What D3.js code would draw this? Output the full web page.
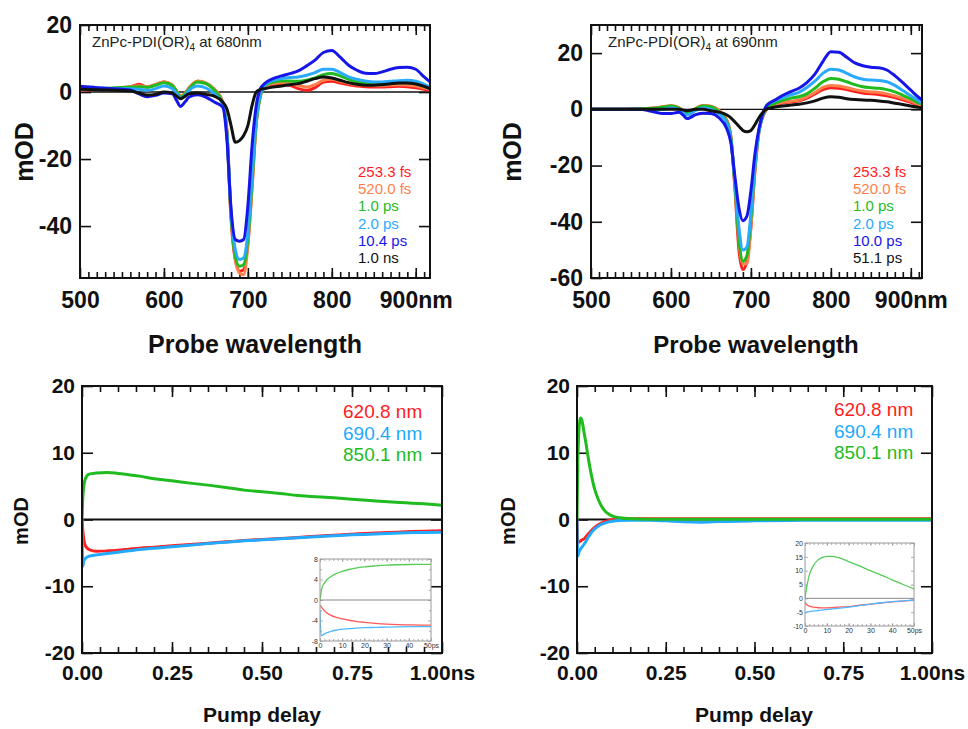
<!DOCTYPE html>
<html>
<head>
<meta charset="utf-8">
<script src="https://cdn.jsdelivr.net/npm/d3@7"></script>
<style>
body { margin: 0; background: #fff; }
svg { font-family: "Liberation Sans", Arial, Helvetica, sans-serif; }
</style>
</head>
<body>
<script>
// ---- spectra: probe wavelength grid (nm)
var wl = [500,520,540,560,570,580,590,600,610,615,620,625,630,640,650,660,670,675,680,685,690,695,700,705,710,715,720,730,740,750,760,770,780,790,800,810,820,830,840,850,860,870,880,890,900,910,917];

// excitation at 680 nm (mOD)
var ex680_253fs = [0.5,0.8,1.0,1.5,2.3,1.5,2.2,3.0,2.0,0.3,-1.3,-0.5,1.2,3.2,2.6,0.8,-3,-12,-38,-50,-53.5,-53,-45,-28,-9,-1,1.5,2.3,2.5,2.0,1.0,0.5,1.3,3.0,3.2,2.7,2.2,1.8,1.6,1.5,1.5,1.6,1.7,1.6,1.3,0.8,0.5];
var ex680_520fs = [0.6,0.9,1.1,1.6,1.9,1.6,2.3,3.1,2.1,0.4,-1.2,-0.4,1.3,3.3,2.7,0.9,-2.8,-11,-37,-50,-54,-54.5,-46,-29,-9.5,-1.2,1.5,2.5,2.8,2.5,2.0,1.5,2.2,3.5,3.8,3.2,2.6,2.2,2.0,1.9,1.9,2.1,2.2,2.1,1.8,1.2,0.8];
var ex680_1ps = [0.8,1.0,1.2,1.5,1.6,1.4,2.0,2.8,1.9,0.2,-1.5,-0.6,1.0,3.0,2.5,0.5,-3.2,-12,-37,-49,-52,-51.5,-44,-27,-9,-1,1.8,3.0,3.3,3.3,3.2,3.5,4.2,5.2,5.5,4.8,3.8,3.0,2.6,2.4,2.4,2.6,2.8,2.8,2.5,1.8,1.2];
var ex680_2ps = [1.5,1.3,1.0,1.0,0.8,0.5,1.0,1.8,1.0,-0.5,-2.0,-1.0,0.5,1.8,1.2,-0.5,-3.5,-12.5,-36,-47,-50,-49.5,-42,-25,-8,-0.5,2.0,3.5,4.0,4.3,4.5,5.0,5.8,6.8,6.8,5.8,4.5,3.8,3.3,3.0,3.0,3.2,3.4,3.5,3.2,2.3,1.5];
var ex680_10ps = [1.7,1.3,1.0,0.6,-0.5,-1.4,-1.0,-0.3,-0.5,-2.5,-4.3,-3.0,-1.5,-0.8,-1.5,-3.0,-4.5,-14,-35,-44,-44.5,-44,-34,-16,-4,1.0,2.5,4.0,4.8,5.5,6.3,7.8,9.5,11.8,12.4,10.4,8.0,6.5,5.6,5.5,6.0,6.8,7.3,7.4,6.8,4.5,3.0];
var ex680_1ns = [0.8,0.7,0.5,0.3,-0.3,-0.9,-0.7,0.0,-0.3,-1.2,-2.0,-1.3,-0.5,-0.3,-0.7,-1.2,-3.0,-5.0,-10,-15,-14.5,-13,-10,-4,0,0.8,1.0,1.5,1.8,2.2,2.5,3.2,4.0,4.5,4.2,3.5,2.8,2.3,2.0,2.0,2.2,2.5,2.7,2.7,2.4,1.7,1.0];
var labels680 = ["253.3 fs","520.0 fs","1.0 ps","2.0 ps","10.4 ps","1.0 ns"];

// excitation at 690 nm (mOD)
var ex690_253fs = [0,0,0,0.2,0.3,0.5,0.8,1.2,0.5,-0.5,-1.5,-1,0,1.3,1.0,-0.5,-4,-10,-28,-50,-57,-54,-42,-22,-8,-2.5,0,1.5,2.2,2.6,3.0,4.0,5.5,7.0,7.7,7.5,7.0,6.3,5.8,5.5,5.3,4.8,4.2,3.4,2.5,1.5,1.0];
var ex690_520fs = [0,0,0,0.2,0.3,0.5,0.9,1.3,0.6,-0.4,-1.4,-0.9,0.1,1.4,1.1,-0.4,-4,-10,-27,-47,-55,-55,-42,-22,-8,-2.5,0,1.7,2.5,2.9,3.3,4.4,6.0,7.8,8.5,8.3,7.7,7.0,6.5,6.2,6.0,5.5,4.8,3.9,2.9,1.8,1.2];
var ex690_1ps = [0,0,0,0.2,0.3,0.4,0.8,1.2,0.4,-0.6,-1.6,-1.0,0,1.2,0.9,-0.8,-4.5,-10,-27,-46,-54,-52,-39,-21,-8,-2,0.5,2.2,3.2,4.0,4.5,5.5,7.5,9.8,11.0,10.7,9.8,8.8,8.0,7.7,7.5,7.0,6.2,5.0,3.7,2.3,1.5];
var ex690_2ps = [0,0,0,0,-0.1,-0.3,0,0.5,0,-1.0,-2.0,-1.5,-0.5,0.5,0,-1.5,-5,-11,-26,-42,-50,-49,-37,-20,-8,-2,1.5,3.0,4.2,5.2,6.0,7.8,10.0,12.8,14.3,14.0,12.8,11.5,10.7,10.4,10.3,9.8,8.5,6.7,4.8,3.0,2.0];
var ex690_10ps = [0,0,0,0,-0.3,-1.0,-1.5,-1.5,-1.0,-2.0,-3.3,-2.8,-2.0,-1.4,-1.5,-3.0,-7,-12,-24,-35,-39.6,-38,-29,-16,-7,-1.5,1.5,3.3,5.0,6.3,7.5,9.5,12.5,17.0,20.5,20.3,18.5,16.5,15.5,15.0,14.8,14.0,12.0,9.5,6.8,4.2,2.8];
var ex690_51ps = [0,0,0,0,0,0,0,0,0,-0.2,-0.5,-0.3,0,0,-0.5,-1.0,-2.0,-3.0,-4.5,-6.0,-7.5,-8.0,-7.5,-5.5,-3.0,-1.0,0.2,0.8,1.2,1.5,1.8,2.3,3.0,4.0,4.5,4.3,3.8,3.5,3.3,3.2,3.0,2.7,2.2,1.7,1.2,0.7,0.5];
var labels690 = ["253.3 fs","520.0 fs","1.0 ps","2.0 ps","10.0 ps","51.1 ps"];

var specColors = ["#ff1e1e","#ff7f4a","#1fbb1f","#2aaaff","#1616e8","#111111"];

// ---- kinetics, 680 nm excitation (time in ns)
var tA = [0,0.002,0.005,0.01,0.02,0.04,0.07,0.1,0.13,0.16,0.2,0.25,0.3,0.35,0.4,0.45,0.5,0.55,0.6,0.65,0.7,0.75,0.8,0.85,0.9,0.95,1.0];
var kA_621 = [0,-1.5,-3,-4,-4.5,-4.75,-4.7,-4.6,-4.45,-4.3,-4.15,-3.95,-3.75,-3.55,-3.35,-3.15,-3.0,-2.85,-2.7,-2.5,-2.35,-2.2,-2.05,-1.95,-1.85,-1.75,-1.7];
var kA_690 = [0,-7,-6.2,-5.8,-5.5,-5.3,-5.1,-4.9,-4.7,-4.5,-4.3,-4.1,-3.85,-3.6,-3.4,-3.2,-3.05,-2.9,-2.75,-2.6,-2.45,-2.3,-2.2,-2.1,-2.0,-1.95,-1.9];
var kA_850 = [0,3,5,6.2,6.8,6.95,7.05,6.9,6.7,6.5,6.1,5.8,5.45,5.15,4.8,4.4,4.15,3.9,3.6,3.4,3.25,3.05,2.85,2.65,2.5,2.35,2.15];
// inset, first 50 ps
var tAi = [0,0.5,1,2,3,5,7,10,13,16,20,25,30,35,40,45,50];
var kAi_621 = [-1,-1.3,-1.6,-2.1,-2.5,-3.0,-3.35,-3.7,-3.95,-4.15,-4.35,-4.55,-4.7,-4.8,-4.85,-4.9,-4.9];
var kAi_690 = [-2,-7,-6.9,-6.6,-6.4,-6.1,-5.9,-5.7,-5.6,-5.5,-5.4,-5.35,-5.3,-5.25,-5.2,-5.2,-5.2];
var kAi_850 = [0,1.5,2.5,3.3,3.9,4.6,5.1,5.6,5.95,6.2,6.45,6.65,6.8,6.88,6.93,6.95,6.97];

// ---- kinetics, 690 nm excitation (time in ns)
var tB = [0,0.002,0.005,0.008,0.01,0.013,0.016,0.02,0.025,0.03,0.035,0.04,0.05,0.06,0.07,0.08,0.09,0.1,0.12,0.15,0.2,0.25,0.3,0.35,0.4,0.5,0.6,0.7,0.8,0.9,1.0];
var kB_621 = [0,-3.5,-3.4,-3.3,-3.2,-3.1,-3,-2.9,-2.6,-2.3,-2,-1.7,-1.2,-0.8,-0.5,-0.3,-0.15,-0.05,0.05,0.1,0.1,0.1,0.1,0.1,0.1,0.1,0.1,0.1,0.1,0.1,0.1];
var kB_690 = [0,-5.5,-5,-4.6,-4.4,-4.2,-4,-3.7,-3.3,-2.8,-2.4,-2,-1.4,-1,-0.7,-0.5,-0.35,-0.25,-0.15,-0.1,-0.1,-0.2,-0.35,-0.4,-0.3,-0.2,-0.15,-0.1,-0.1,-0.1,-0.1];
var kB_850 = [0,8,13,14.8,15.2,15,14.3,13,11.5,9.8,8.2,6.8,4.5,3,1.9,1.2,0.8,0.5,0.25,0.1,0.05,0.05,0.05,0.05,0.05,0.05,0.05,0.05,0.05,0.05,0.05];
var tBi = [0,1,2,4,6,8,10,12,15,20,25,30,35,40,45,50];
var kBi_621 = [-1.5,-2.4,-2.8,-3.2,-3.4,-3.45,-3.45,-3.4,-3.2,-3.0,-2.5,-2.1,-1.7,-1.3,-1.0,-0.7];
var kBi_690 = [-5.2,-5,-4.8,-4.6,-4.4,-4.2,-4.05,-3.9,-3.6,-3.2,-2.6,-2.1,-1.6,-1.2,-0.9,-0.6];
var kBi_850 = [0,5,8.5,12,13.9,14.8,15.2,15.2,14.8,13.3,11.7,10.0,8.4,6.7,5.0,3.4];

var kinLabels = ["620.8 nm","690.4 nm","850.1 nm"];
var kinColors = ["#ff2020","#22aaff","#1fbb1f"];
var insetColors = ["#ff5a5a","#4fbaff","#55cc55"];

var svg = d3.select("body").append("svg")
    .attr("width", 968)
    .attr("height", 729);

var clipCount = 0;

// draws one framed plot with inward ticks and its curves
function panel(o) {
    var g = svg.append("g");
    var x = d3.scaleLinear().domain(o.xd).range([o.l, o.r]);
    var y = d3.scaleLinear().domain(o.yd).range([o.b, o.t]);

    if (o.bg) {
        g.append("rect").attr("x", o.l).attr("y", o.t)
            .attr("width", o.r - o.l).attr("height", o.b - o.t).attr("fill", "#fff");
    }

    var ax = g.append("g");
    function addAxis(axis, tx, ty) {
        ax.append("g").attr("transform", "translate(" + tx + "," + ty + ")").call(axis);
    }
    addAxis(d3.axisBottom(x).tickValues(o.xMinor).tickSize(-o.minorLen).tickFormat(""), 0, o.b);
    addAxis(d3.axisBottom(x).tickValues(o.xMajor).tickSize(-o.majorLen).tickPadding(o.xPad).tickFormat(o.xFmt), 0, o.b);
    addAxis(d3.axisTop(x).tickValues(o.xMinor).tickSize(-o.minorLen).tickFormat(""), 0, o.t);
    addAxis(d3.axisTop(x).tickValues(o.xMajor).tickSize(-o.majorLen).tickFormat(""), 0, o.t);
    addAxis(d3.axisLeft(y).tickValues(o.yMajor).tickSize(-o.yLen).tickPadding(o.yPad).tickFormat(o.yFmt), o.l, 0);
    addAxis(d3.axisRight(y).tickValues(o.yMajor).tickSize(-o.yLen).tickFormat(""), o.r, 0);
    if (o.yMinor) {
        addAxis(d3.axisLeft(y).tickValues(o.yMinor).tickSize(-o.minorLen).tickFormat(""), o.l, 0);
        addAxis(d3.axisRight(y).tickValues(o.yMinor).tickSize(-o.minorLen).tickFormat(""), o.r, 0);
    }
    ax.selectAll(".domain").remove();
    ax.selectAll("line").attr("stroke", o.frame).attr("stroke-width", o.tickW);
    ax.selectAll("text")
        .attr("font-family", "'Liberation Sans', Arial, sans-serif")
        .attr("font-size", o.font)
        .attr("font-weight", o.bold ? "bold" : "normal")
        .attr("fill", o.labelColor);

    // zero line
    g.append("line")
        .attr("x1", o.l).attr("x2", o.r)
        .attr("y1", y(0)).attr("y2", y(0))
        .attr("stroke", o.zero).attr("stroke-width", o.zeroW);

    var id = "clip" + (clipCount++);
    g.append("clipPath").attr("id", id).append("rect")
        .attr("x", o.l).attr("y", o.t).attr("width", o.r - o.l).attr("height", o.b - o.t);

    var line = d3.line()
        .x(function(d) { return x(d[0]); })
        .y(function(d) { return y(d[1]); })
        .curve(d3.curveMonotoneX);

    g.append("g").attr("clip-path", "url(#" + id + ")")
        .selectAll("path")
        .data(o.series)
        .enter().append("path")
            .attr("fill", "none")
            .attr("stroke", function(d) { return d.color; })
            .attr("stroke-width", o.lineW)
            .attr("stroke-linejoin", "round")
            .attr("d", function(d) { return line(d.xs.map(function(v, i) { return [v, d.ys[i]]; })); });

    g.append("rect")
        .attr("x", o.l).attr("y", o.t)
        .attr("width", o.r - o.l).attr("height", o.b - o.t)
        .attr("fill", "none").attr("stroke", o.frame).attr("stroke-width", o.frameW);
    return g;
}

function makeSeries(xs, list, colors) {
    return list.map(function(ys, i) { return {xs: xs, ys: ys, color: colors[i]}; });
}

// plain hyphen for negatives, as in the original figure
function intFmt(d) { return String(d); }
function nmFmt(last) {
    return function(d) { return d === last ? d + "nm" : String(d); };
}
function nsFmt(d) { return d === 1 ? "1.00ns" : d.toFixed(2); }
function psFmt(d) { return d === 50 ? "50ps" : String(d); }

var bigTicks = {xMinor: d3.range(510, 917, 10), xMajor: [500,600,700,800,900], minorLen: 6, majorLen: 10, yLen: 11,
    xPad: 14, yPad: 8, font: 23, bold: true, labelColor: "#111", frame: "#111", tickW: 1.6, frameW: 2,
    zero: "#111", zeroW: 1.4, lineW: 3};

panel(Object.assign({}, bigTicks, {l: 80, r: 430, t: 25, b: 278, xd: [500, 917], yd: [-55.5, 20],
    xFmt: nmFmt(900), yMajor: [20,0,-20,-40], yFmt: intFmt,
    series: makeSeries(wl, [ex680_253fs, ex680_520fs, ex680_1ps, ex680_2ps, ex680_10ps, ex680_1ns], specColors)}));

panel(Object.assign({}, bigTicks, {l: 591, r: 922, t: 25, b: 278, xd: [500, 914], yd: [-60, 30],
    xFmt: nmFmt(900), yMajor: [20,0,-20,-40,-60], yFmt: intFmt,
    series: makeSeries(wl, [ex690_253fs, ex690_520fs, ex690_1ps, ex690_2ps, ex690_10ps, ex690_51ps], specColors)}));

var kinTicks = {xMinor: d3.range(0.05, 1, 0.05), xMajor: [0,0.25,0.5,0.75,1], minorLen: 6, majorLen: 11, yLen: 11,
    xPad: 12, yPad: 7, font: 21, bold: true, labelColor: "#111", frame: "#111", tickW: 1.6, frameW: 2,
    zero: "#111", zeroW: 1.8, lineW: 3, yMajor: [-20,-10,0,10,20], yFmt: intFmt, xFmt: nsFmt, xd: [0, 1], yd: [-20, 20]};

panel(Object.assign({}, kinTicks, {l: 82, r: 442, t: 386, b: 653,
    series: makeSeries(tA, [kA_621, kA_690, kA_850], kinColors)}));
panel(Object.assign({}, kinTicks, {l: 577, r: 932, t: 386, b: 653,
    series: makeSeries(tB, [kB_621, kB_690, kB_850], kinColors)}));

var insetTicks = {xMinor: d3.range(2, 50, 2), xMajor: [0,10,20,30,40,50], minorLen: 2, majorLen: 3, yLen: 3,
    xPad: 2, yPad: 2, font: 7, bold: false, labelColor: "#333", frame: "#999", tickW: 0.8, frameW: 1,
    zero: "#888", zeroW: 1, lineW: 1.3, xFmt: psFmt, yFmt: intFmt, xd: [0, 50], bg: true};

panel(Object.assign({}, insetTicks, {l: 320, r: 431, t: 559, b: 641, yd: [-8, 8],
    yMajor: [-8,-4,0,4,8], yMinor: [-6,-2,2,6],
    series: makeSeries(tAi, [kAi_621, kAi_690, kAi_850], insetColors)}));
panel(Object.assign({}, insetTicks, {l: 805, r: 914, t: 543, b: 626, yd: [-10, 20],
    yMajor: [-10,-5,0,5,10,15,20], yMinor: null,
    series: makeSeries(tBi, [kBi_621, kBi_690, kBi_850], insetColors)}));

// ---- titles, annotations and legends
function label(txt, x, y, size, rot) {
    svg.append("text")
        .attr("transform", "translate(" + x + "," + y + ")" + (rot ? " rotate(-90)" : ""))
        .attr("text-anchor", "middle")
        .attr("font-size", size)
        .attr("font-weight", "bold")
        .attr("fill", "#111")
        .text(txt);
}
label("mOD", 33, 152, 25, true);
label("mOD", 521, 152, 25, true);
label("Probe wavelength", 255, 353, 25);
label("Probe wavelength", 756, 353, 24);
label("mOD", 28, 521, 20, true);
label("mOD", 515, 521, 20, true);
label("Pump delay", 262, 722, 21);
label("Pump delay", 754, 722, 21);

function annot(x, y, nm) {
    var t = svg.append("text").attr("x", x).attr("y", y).attr("font-size", 15).attr("fill", "#222");
    t.append("tspan").text("ZnPc-PDI(OR)");
    t.append("tspan").attr("font-size", 10).attr("dy", 4).text("4");
    t.append("tspan").attr("dy", -4).text(" at " + nm);
}
annot(92, 47, "680nm");
annot(608, 47, "690nm");

function legend(labels, colors, x, y0, step, size) {
    svg.append("g").selectAll("text")
        .data(labels)
        .enter().append("text")
            .attr("x", x)
            .attr("y", function(d, i) { return y0 + i * step; })
            .attr("font-size", size)
            .attr("fill", function(d, i) { return colors[i]; })
            .text(function(d) { return d; });
}
legend(labels680, specColors, 358, 177, 17.2, 15);
legend(labels690, specColors, 853, 177, 17.2, 15);
legend(kinLabels, kinColors, 343, 418, 21.5, 19);
legend(kinLabels, kinColors, 834, 416, 21.5, 19);
</script>
</body>
</html>
